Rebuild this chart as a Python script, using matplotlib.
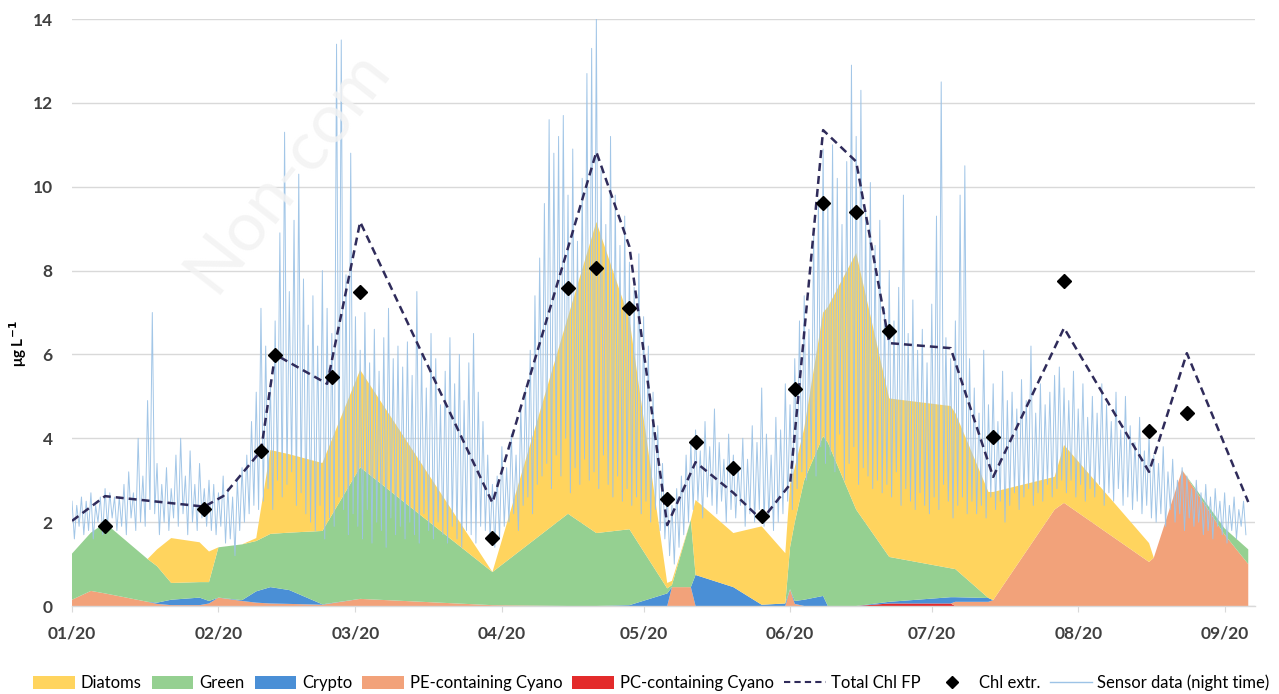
import numpy as np
import pandas as pd
import matplotlib
matplotlib.use("Agg")
import matplotlib.pyplot as plt
import matplotlib.dates as mdates
from matplotlib.patches import Patch
from matplotlib.lines import Line2D

plt.rcParams["font.family"] = ["Lato", "DejaVu Sans"]

# ---- FluoroProbe group composition (µg Chl L-1 per algal group) ----
fp_dates = [
    "2020-01-01", "2020-01-05", "2020-01-08", "2020-01-17", "2020-01-19",
    "2020-01-22", "2020-01-28", "2020-01-30", "2020-02-01", "2020-02-06",
    "2020-02-09", "2020-02-12", "2020-02-16", "2020-02-23", "2020-03-02",
    "2020-03-30", "2020-04-15", "2020-04-21", "2020-04-28", "2020-05-06",
    "2020-05-07", "2020-05-11", "2020-05-12", "2020-05-20", "2020-05-26",
    "2020-05-31", "2020-06-01", "2020-06-02", "2020-06-04", "2020-06-08",
    "2020-06-09", "2020-06-15", "2020-06-22", "2020-07-05", "2020-07-06",
    "2020-07-13", "2020-07-14", "2020-07-27", "2020-07-29", "2020-08-16",
    "2020-08-17", "2020-08-23", "2020-09-01", "2020-09-06",
]
pc_cyano = [0, 0, 0, 0, 0, 0, 0, 0, 0, 0,
            0, 0, 0, 0, 0, 0, 0, 0, 0, 0,
            0, 0, 0, 0, 0, 0, 0, 0, 0, 0,
            0, 0, 0.06, 0.06, 0, 0, 0, 0, 0, 0,
            0, 0, 0, 0]
pe_cyano = [0.15, 0.36, 0.30, 0.10, 0.05, 0.02, 0.02, 0.06, 0.20, 0.12,
            0.08, 0.06, 0.05, 0.03, 0.17, 0.02, 0, 0, 0, 0,
            0.45, 0.45, 0, 0, 0, 0, 0.40, 0.05, 0, 0,
            0, 0, 0, 0, 0.10, 0.10, 0.14, 2.30, 2.46, 1.05,
            1.15, 3.24, 1.70, 1.00]
crypto = [0, 0, 0, 0, 0.03, 0.13, 0.18, 0.06, 0, 0.02,
          0.27, 0.39, 0.33, 0.01, 0, 0, 0, 0, 0.02, 0.30,
          0, 0, 0.74, 0.45, 0.03, 0.06, 0, 0.07, 0.15, 0.24,
          0, 0, 0.04, 0.15, 0.11, 0.09, 0, 0, 0, 0,
          0, 0, 0, 0]
green = [1.10, 1.39, 1.68, 1.02, 0.87, 0.40, 0.37, 0.45, 1.20, 1.33,
         1.20, 1.27, 1.37, 1.75, 3.14, 0.79, 2.20, 1.74, 1.81, 0.12,
         0.05, 1.60, 0, 0, 0, 0, 1.00, 1.88, 2.85, 3.81,
         3.90, 2.30, 1.07, 0.69, 0.67, 0, 0, 0, 0, 0,
         0, 0, 0.15, 0.35]
diatoms = [0, 0, 0, 0, 0.40, 1.07, 0.95, 0.73, 0, 0,
           0.07, 2.00, 1.87, 1.62, 2.32, 0, 4.70, 7.42, 5.01, 0.13,
           0.10, 0, 1.79, 1.29, 1.87, 1.20, 1.50, 1.30, 1.24, 2.95,
           3.23, 6.12, 3.78, 3.87, 3.72, 2.53, 2.58, 0.78, 1.38, 0.45,
           0, 0, 0, 0]

# ---- total chlorophyll from the FluoroProbe ----
total_dates = [
    "2020-01-01", "2020-01-08", "2020-01-29", "2020-02-02", "2020-02-10",
    "2020-02-13", "2020-02-24", "2020-03-02", "2020-03-30", "2020-04-21",
    "2020-04-28", "2020-05-06", "2020-05-12", "2020-05-20", "2020-05-26",
    "2020-06-01", "2020-06-08", "2020-06-15", "2020-06-22", "2020-07-05",
    "2020-07-14", "2020-07-29", "2020-08-16", "2020-08-24", "2020-09-06",
]
total_chl_fp = [2.03, 2.62, 2.37, 2.62, 3.70, 6.00, 5.30, 9.16, 2.46, 10.83,
                8.57, 1.93, 3.43, 2.70, 2.05, 2.90, 11.35, 10.60, 6.27, 6.15,
                3.08, 6.63, 3.20, 6.03, 2.48]

# ---- extracted chlorophyll ----
extr_dates = [
    "2020-01-08", "2020-01-29", "2020-02-10", "2020-02-13", "2020-02-25",
    "2020-03-02", "2020-03-30", "2020-04-15", "2020-04-21", "2020-04-28",
    "2020-05-06", "2020-05-12", "2020-05-20", "2020-05-26", "2020-06-02",
    "2020-06-08", "2020-06-15", "2020-06-22", "2020-07-14", "2020-07-29",
    "2020-08-16", "2020-08-24",
]
chl_extr = [1.91, 2.31, 3.70, 5.99, 5.46, 7.49, 1.62, 7.58, 8.06, 7.11,
            2.55, 3.91, 3.29, 2.15, 5.18, 9.61, 9.40, 6.56, 4.03, 7.75,
            4.17, 4.60]

# ---- in-situ sensor, nightly maximum / minimum (from 2020-01-01) ----
sensor_start = "2020-01-01"
sensor_night_high = [
    2.5, 2.4, 2.6, 2.5, 2.7, 2.4, 2.6, 2.8, 2.7, 2.6,
    2.6, 2.9, 3.2, 2.7, 4.0, 3.1, 4.9, 7.0, 3.4, 2.9,
    3.3, 2.8, 3.6, 4.0, 3.1, 3.7, 2.9, 3.4, 2.8, 3.0,
    2.9, 2.7, 3.1, 2.8, 2.6, 3.0, 3.3, 3.6, 4.4, 5.1,
    7.1, 6.2, 5.3, 6.8, 8.9, 11.3, 7.5, 9.2, 10.3, 7.8,
    6.7, 7.4, 6.2, 8.0, 7.1, 6.5, 13.4, 13.5, 7.9, 10.8,
    6.9, 6.1, 7.0, 5.8, 6.6, 5.6, 6.4, 7.1, 5.9, 6.2,
    5.7, 6.3, 5.5, 7.5, 6.0, 5.2, 6.5, 5.9, 4.8, 5.6,
    6.4, 5.3, 6.0, 4.9, 5.8, 6.5, 5.1, 4.4, 3.6, 2.9,
    3.1, 3.8, 3.3, 4.1, 3.6, 4.8, 5.2, 6.1, 7.4, 8.3,
    9.6, 11.6, 10.8, 11.2, 11.7, 9.8, 10.9, 8.7, 10.2, 12.7,
    13.3, 14.0, 10.4, 9.1, 11.2, 9.8, 8.6, 9.3, 8.2, 7.6,
    8.4, 6.9, 6.2, 5.1, 4.3, 3.4, 2.7, 2.4, 2.8, 3.1,
    3.6, 3.9, 4.2, 3.7, 4.4, 3.8, 4.7, 3.9, 3.5, 4.1,
    3.6, 3.3, 4.0, 3.5, 4.3, 3.9, 5.2, 4.1, 3.6, 4.5,
    4.2, 5.3, 4.8, 5.9, 6.8, 7.4, 6.6, 8.9, 9.7, 10.9,
    9.6, 11.0, 10.2, 9.1, 10.6, 12.9, 11.2, 12.3, 9.4, 10.1,
    8.6, 9.2, 7.1, 8.0, 6.8, 7.6, 9.8, 6.5, 7.3, 6.1,
    6.6, 5.8, 7.2, 9.3, 12.5, 6.4, 5.9, 6.8, 9.8, 10.5,
    5.9, 5.2, 4.6, 6.1, 4.8, 5.3, 4.4, 5.6, 4.9, 5.1,
    4.7, 5.4, 4.9, 6.2, 4.6, 5.3, 4.8, 5.1, 5.5, 5.7,
    5.2, 4.9, 5.6, 4.7, 5.3, 4.5, 5.0, 4.6, 5.3, 4.8,
    4.4, 5.1, 4.2, 5.0, 4.3, 3.9, 4.5, 3.7, 4.1, 3.6,
    3.4, 3.8, 3.2, 3.5, 3.0, 3.3, 3.1, 2.8, 3.0, 2.7,
    2.9, 2.6, 2.8, 2.5, 2.7, 2.4, 2.6, 2.3, 2.5,
]
sensor_night_low = [
    1.6, 1.9, 1.7, 1.8, 1.6, 2.0, 1.7, 1.9, 2.1, 1.8,
    1.9, 1.7, 2.1, 1.8, 2.0, 1.9, 2.3, 2.2, 1.7, 2.0,
    1.8, 2.1, 1.9, 2.2, 1.7, 2.0, 1.8, 2.1, 1.9, 1.8,
    1.7, 1.9, 1.5, 1.6, 1.2, 1.8, 2.0, 2.2, 2.4, 2.3,
    2.5, 2.8, 2.3, 3.0, 2.6, 2.9, 3.2, 2.4, 2.7, 2.2,
    2.0, 1.8, 2.4, 1.6, 2.1, 1.9, 2.6, 2.3, 1.7, 2.2,
    1.9, 1.6, 2.3, 1.5, 2.0, 1.8, 1.4, 2.1, 1.7, 1.9,
    1.6, 2.0, 1.7, 1.5, 2.2, 1.8, 1.6, 2.0, 1.7, 1.5,
    1.9, 1.6, 1.4, 1.8, 1.7, 1.5, 1.9, 1.8, 1.6, 1.4,
    1.6, 1.9, 2.0, 2.2, 1.8, 2.4, 2.6, 2.2, 2.9, 3.1,
    3.4, 2.8, 3.6, 3.1, 4.0, 2.7, 3.3, 2.9, 3.5, 3.0,
    3.2, 2.8, 3.6, 2.9, 2.6, 3.1, 2.5, 2.8, 2.4, 2.6,
    2.2, 2.5, 2.0, 2.3, 1.8, 1.6, 1.2, 1.0, 1.4, 1.7,
    2.0, 2.3, 2.5, 2.1, 2.6, 2.4, 2.2, 2.5, 2.0, 2.3,
    2.1, 2.4, 1.9, 2.2, 2.0, 2.3, 1.9, 2.1, 1.8, 2.0,
    2.2, 2.5, 2.3, 2.8, 3.2, 3.0, 3.5, 3.1, 3.8, 3.4,
    3.6, 3.2, 4.1, 3.0, 3.4, 3.8, 2.9, 3.3, 3.1, 2.8,
    3.0, 2.7, 2.9, 2.6, 3.2, 2.4, 2.8, 2.5, 2.3, 2.7,
    2.4, 2.2, 2.6, 2.3, 2.9, 2.5, 2.1, 2.4, 2.6, 2.2,
    2.5, 2.2, 2.4, 2.1, 2.6, 2.3, 2.5, 2.0, 2.4, 2.7,
    2.3, 2.6, 2.8, 2.4, 2.7, 2.5, 2.9, 2.6, 2.8, 3.0,
    2.7, 3.0, 2.6, 2.9, 2.5, 2.8, 2.6, 2.9, 2.4, 2.7,
    2.5, 2.8, 2.4, 2.6, 2.3, 2.5, 2.2, 2.4, 2.1, 2.0,
    2.2, 1.9, 2.3, 2.0, 2.2, 1.8, 2.1, 1.9, 2.0, 1.7,
    1.8, 1.6, 1.9, 1.7, 1.5, 1.8, 1.6, 1.9, 1.7,
]

y_ticks = [0, 2, 4, 6, 8, 10, 12, 14]

# ---- colours ----
col_diatoms = "#FFD45E"
col_green = "#95D091"
col_crypto = "#4A8FD6"
col_pe = "#F2A27A"
col_pc = "#E32B2B"
col_total = "#2F2B5A"
col_sensor = "#9DC3E6"
col_text = "#404040"
col_grid = "#D9D9D9"

fig = plt.figure(figsize=(12.79, 6.94), dpi=100)
ax = fig.add_axes([0.0563, 0.1268, 0.9249, 0.8458])

fp_t = pd.to_datetime(fp_dates)
ax.stackplot(fp_t, pc_cyano, pe_cyano, crypto, green, diatoms,
             colors=[col_pc, col_pe, col_crypto, col_green, col_diatoms],
             linewidth=0, zorder=2)

# nightly sensor trace: maximum then minimum for each night
n_nights = len(sensor_night_high)
base = pd.Timestamp(sensor_start)
sensor_t, sensor_v = [], []
for i in range(n_nights):
    sensor_t.append(base + pd.Timedelta(hours=24 * i))
    sensor_v.append(sensor_night_high[i])
    sensor_t.append(base + pd.Timedelta(hours=24 * i + 12))
    sensor_v.append(sensor_night_low[i])
ax.plot(sensor_t, sensor_v, color=col_sensor, lw=0.7, alpha=0.95, zorder=3)

ax.plot(pd.to_datetime(total_dates), total_chl_fp, color=col_total, lw=1.8,
        dashes=(3.2, 2.0), zorder=4)
ax.plot(pd.to_datetime(extr_dates), chl_extr, ls="none", marker="D",
        ms=7.5, color="black", zorder=5)

ax.set_xlim(pd.Timestamp("2020-01-01"), pd.Timestamp("2020-09-07 10:00"))
ax.set_ylim(0, 14)
ax.set_yticks(y_ticks)
ax.yaxis.grid(True, color=col_grid, lw=1.0, zorder=0)
ax.set_axisbelow(True)

ax.xaxis.set_major_locator(mdates.MonthLocator())
ax.xaxis.set_major_formatter(mdates.DateFormatter("%m/%y"))

for s in ["top", "right", "left"]:
    ax.spines[s].set_visible(False)
ax.spines["bottom"].set_color(col_grid)
ax.spines["bottom"].set_linewidth(1.0)

ax.tick_params(axis="y", length=0, pad=14, labelsize=12.5, labelcolor=col_text)
ax.tick_params(axis="x", length=4, color=col_grid, pad=10, labelsize=12.5,
               labelcolor=col_text)
for lab in ax.get_xticklabels() + ax.get_yticklabels():
    lab.set_fontweight("bold")

fig.text(0.014, 0.505, "μg L$^{\\mathbf{-1}}$", rotation=90, ha="center",
         va="center", fontsize=11, fontweight="bold", color="black")

handles = [
    Patch(facecolor=col_diatoms, label="Diatoms"),
    Patch(facecolor=col_green, label="Green"),
    Patch(facecolor=col_crypto, label="Crypto"),
    Patch(facecolor=col_pe, label="PE-containing Cyano"),
    Patch(facecolor=col_pc, label="PC-containing Cyano"),
    Line2D([], [], color=col_total, lw=1.5, dashes=(3, 2), label="Total Chl FP"),
    Line2D([], [], ls="none", marker="D", ms=6, color="black", label="Chl extr."),
    Line2D([], [], color=col_sensor, lw=1.0, label="Sensor data (night time)"),
]
fig.legend(handles=handles, loc="center", bbox_to_anchor=(0.5094, 0.016),
           ncol=8, frameon=False, fontsize=12, handlelength=2.5,
           handleheight=0.8, handletextpad=0.35, columnspacing=0.6,
           labelcolor="black")

fig.text(0.168, 0.575, "Non-com", rotation=52,
         rotation_mode="anchor", ha="left", va="baseline", fontsize=50,
         color="#F3F3F3", alpha=0.85, zorder=20)

fig.savefig("out.png", dpi=100, facecolor="white")
